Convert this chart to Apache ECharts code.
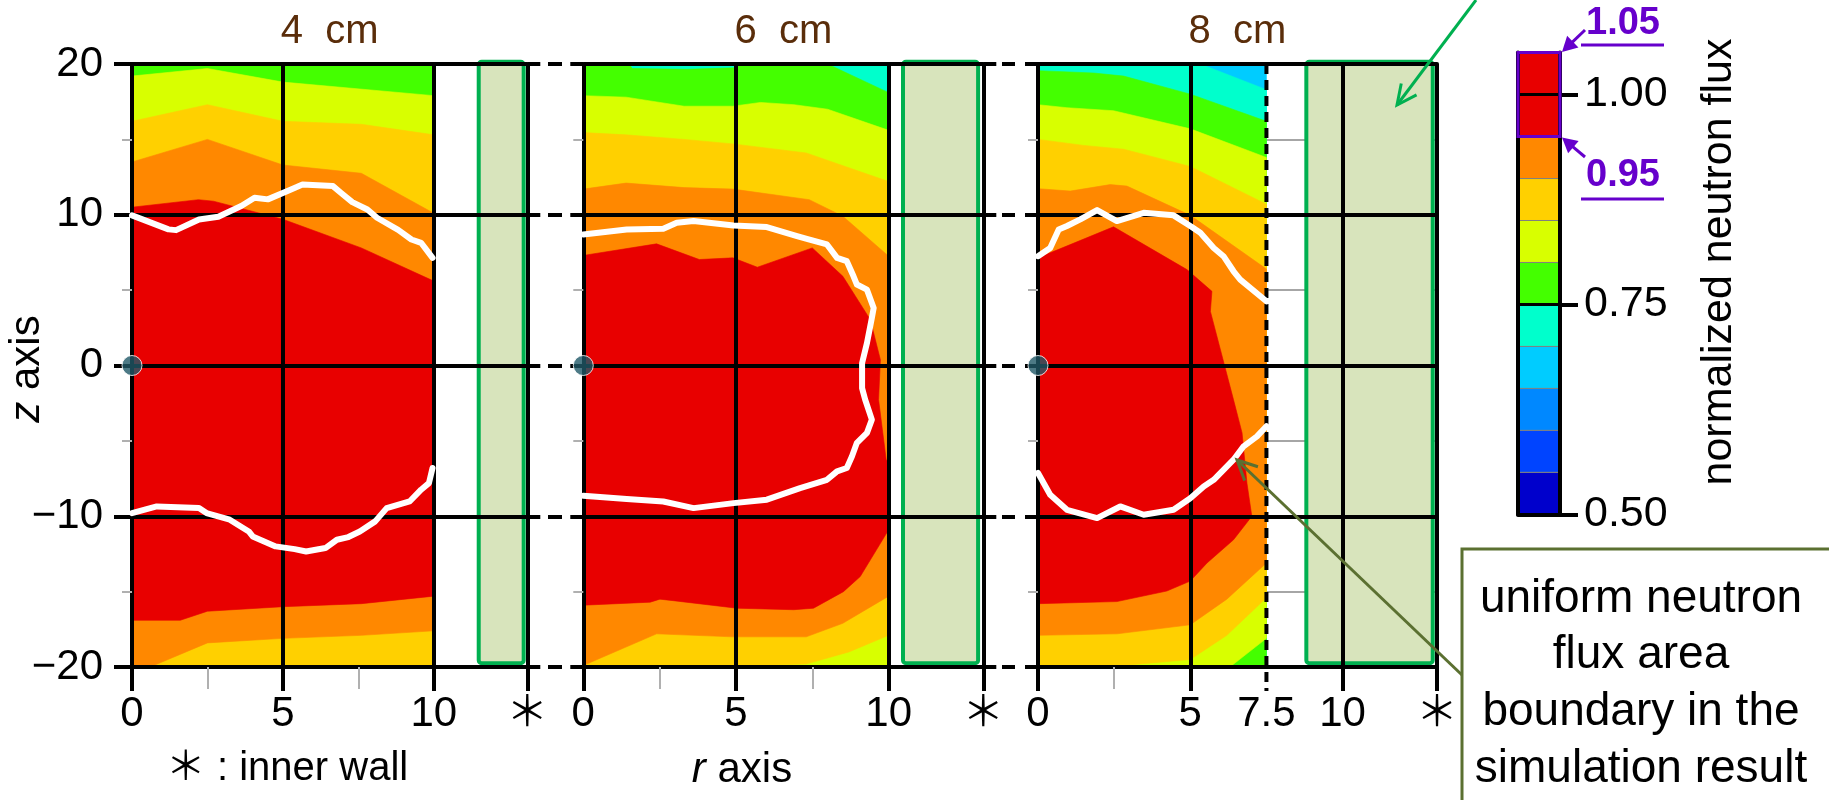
<!DOCTYPE html>
<html><head><meta charset="utf-8">
<script src="https://cdn.jsdelivr.net/npm/echarts@6/dist/echarts.min.js"></script>
<style>html,body{margin:0;padding:0;background:#fff}#c{width:1829px;height:800px}</style>
</head><body><div id="c"></div><script>
// ---------------- DATA ----------------
const panelTitles = ['4  cm', '6  cm', '8  cm'];
const wallMarkR = 13.1;                       // r position of the "*" (inner wall) tick
const contourEdge = [10, 10, 7.5];            // r where the simulated field ends
const wallBand = [[11.49, 12.98], [10.47, 12.93], [8.81, 12.96]]; // shaded inner-wall band (r)
const xLabelValues = [[0, 5, 10, 13.1], [0, 5, 10, 13.1], [0, 5, 7.5, 10, 13.1]];
const xMajorTicks = [[0, 5, 10, 13.1], [0, 5, 10, 13.1], [0, 5, 10, 13.1]];
const xMinorTicks = [[2.5, 7.5], [2.5, 7.5], [2.5]];
const zTicks = [-20, -10, 0, 10, 20];
const centerPoint = [[0, 0]];

// colour scale (lower bound of each 0.05 bin)
const colorLevels = [0.50, 0.55, 0.60, 0.65, 0.70, 0.75, 0.80, 0.85, 0.90, 0.95, 1.00, 1.05];
const colorBins = ['#0000CC', '#0044FF', '#0088FF', '#00CCFF', '#00FFCC', '#44FF00', '#D8FF00', '#FFD000', '#FF8800', '#E80000', '#E80000'];
const colorbarTicks = [0.50, 0.75, 1.00];
const highlightRange = [0.95, 1.05];

// Panel 1 (4 cm) contour boundaries [r, z]
const p1GreenYg = [[0,19.2],[2.5,19.7],[5,18.8],[10,17.9]];
const p1YgYellow = [[0,16.2],[2.5,17.3],[5,16.2],[7.6,16.0],[10,15.3]];
const p1YellowOrange = [[0,13.5],[2.5,15.0],[5,13.3],[7.6,12.75],[10,10.1]];
const p1OrangeRed = [[0,10.5],[2.2,11.0],[2.7,10.9],[5,9.7],[7.6,7.8],[10,5.6]];
const p1RedOrangeB = [[0,-16.9],[1.6,-16.9],[2.5,-16.3],[5,-16.0],[7.6,-15.8],[10,-15.3]];
const p1OrangeYellowB = [[0,-20],[0.6,-20],[2.5,-18.4],[5,-18.1],[7.6,-17.9],[10,-17.6]];

// Panel 2 (6 cm)
const p2CyanGreen = [[0,20],[1.5,20],[1.6,19.7],[3.4,19.65],[5.0,19.75],[5.15,20],[8.0,20],[10,18.1]];
const p2GreenYg = [[0,17.9],[1.4,17.8],[3.3,17.2],[4.9,17.2],[5.8,17.45],[6.9,17.3],[8.0,17.0],[10,15.6]];
const p2YgYellow = [[0,15.45],[1.4,15.3],[3.3,15.0],[4.9,14.7],[7.3,14.1],[10,12.2]];
const p2YellowOrange = [[0,11.7],[1.4,12.1],[3.3,11.8],[4.9,11.7],[7.4,11.0],[8.5,9.9],[10,7.25]];
const p2YellowYgB = [[0,-20],[5.8,-19.9],[7.3,-19.8],[8.7,-19.0],[10,-17.9]];
const p2OrangeYellowB = [[0,-19.9],[2.4,-17.8],[4.9,-18.0],[7.3,-18.0],[8.5,-17.1],[10,-15.3]];
const p2RedRegion = [[0,7.3],[2.4,8.07],[3.8,7.03],[4.9,7.14],[5.7,6.52],[7.5,7.8],[8.5,5.92],[9.4,3.04],[9.73,0.38],[9.67,-2.26],[9.92,-6.25],[10,-6.4],[10,-10.9],[9.07,-14.0],[8.52,-15.0],[7.54,-16.1],[6.89,-16.2],[5.03,-16.1],[2.95,-15.6],[2.51,-15.5],[2.19,-15.7],[0,-15.9]];

// Panel 3 (8 cm)
const p3BlueCyan = [[0,20],[5.33,20],[7.5,18.3]];
const p3CyanGreen = [[0,19.56],[1.83,19.4],[2.81,19.2],[5.0,18.0],[7.5,16.2]];
const p3GreenYg = [[0,17.3],[0.95,17.1],[2.48,16.9],[5.0,15.7],[7.5,13.8]];
const p3YgGreenB = [[0,-20],[6.3,-20],[7.5,-18.1]];
const p3YgYellow = [[0,15.0],[1.5,14.6],[2.81,14.35],[5.0,13.2],[7.5,10.7]];
const p3YellowYgB = [[0,-20],[2.8,-19.9],[5.0,-19.5],[6.2,-17.9],[7.5,-15.4]];
const p3YellowOrange = [[0,11.73],[1.06,11.57],[2.37,12.0],[2.92,11.9],[5.0,9.96],[7.5,6.4]];
const p3OrangeYellowB = [[0,-17.9],[2.6,-17.8],[5.0,-17.2],[6.2,-15.5],[7.5,-13.1]];
const p3RedRegion = [[0,7.14],[2.48,9.2],[4.89,6.36],[5.71,4.92],[5.66,3.59],[6.42,-2.28],[6.7,-4.47],[6.86,-7.8],[7.02,-10.0],[6.42,-11.56],[5.55,-13.1],[5.0,-14.3],[4.23,-14.96],[2.59,-15.66],[0,-15.8]];

// uniform-flux boundary (white lines) from the simulation
const wb1Top = [[0,9.96],[1.21,9.03],[1.46,8.98],[2.22,9.69],[2.86,9.87],[3.62,10.58],[4.06,11.13],[4.5,11.02],[5.27,11.68],[5.65,12.0],[6.66,11.9],[6.92,11.46],[7.3,10.84],[7.8,10.35],[8.12,9.8],[8.82,9.0],[9.26,8.36],[9.58,8.14],[9.96,7.14]];
const wb1Bot = [[0,-9.79],[0.82,-9.35],[2.22,-9.46],[2.47,-9.79],[3.24,-10.23],[3.87,-11.01],[4.0,-11.34],[4.76,-12.0],[5.39,-12.18],[5.77,-12.34],[6.41,-12.11],[6.79,-11.56],[7.17,-11.38],[7.55,-11.01],[8.06,-10.34],[8.44,-9.46],[9.2,-9.02],[9.58,-8.24],[9.84,-7.8],[9.96,-6.8]];
const wb2 = [[0,8.69],[1.42,9.02],[2.62,9.07],[3.06,9.47],[3.61,9.58],[4.92,9.29],[6.01,9.18],[7.0,8.58],[7.32,8.4],[7.98,8.03],[8.31,7.14],[8.63,6.92],[8.85,5.92],[8.96,5.37],[9.29,5.03],[9.51,3.81],[9.45,3.15],[9.29,1.49],[9.13,0.16],[9.13,-1.5],[9.23,-2.26],[9.45,-3.59],[9.29,-4.47],[8.96,-5.13],[8.8,-6.02],[8.63,-6.8],[8.31,-7.02],[7.98,-7.58],[7.1,-8.13],[6.01,-8.9],[4.92,-9.13],[3.61,-9.46],[2.62,-9.02],[1.42,-8.86],[0,-8.64]];
const wb3Top = [[0,7.25],[0.4,7.8],[0.68,9.02],[0.95,9.25],[1.39,9.69],[1.94,10.31],[2.59,9.58],[3.47,10.13],[4.45,9.96],[5.0,9.25],[5.33,8.8],[5.77,7.8],[6.09,7.25],[6.42,6.25],[6.64,5.7],[7.5,4.26]];
const wb3Bot = [[0,-7.13],[0.4,-8.57],[0.95,-9.57],[1.94,-10.12],[2.7,-9.35],[3.47,-9.9],[4.45,-9.57],[5.0,-8.8],[5.44,-8.02],[5.77,-7.58],[6.42,-6.25],[6.75,-5.36],[7.19,-4.7],[7.5,-4.03]];

// ---------------- BUILD ----------------
const FONT = '"Liberation Sans", Arial, Helvetica, "Noto Sans CJK JP", sans-serif';
const col = lv => colorBins[colorLevels.indexOf(lv)];
const rect = e => [[0,20],[e,20],[e,-20],[0,-20]];
const topBand = (c, e) => c.concat([[e,-20],[0,-20]]);
const between = (t, b) => t.concat(b.slice().reverse());

const bands = [
  [ {c: col(0.75), p: rect(10)}, {c: col(0.80), p: topBand(p1GreenYg,10)}, {c: col(0.85), p: topBand(p1YgYellow,10)},
    {c: col(0.90), p: between(p1YellowOrange, p1OrangeYellowB)}, {c: col(0.95), p: between(p1OrangeRed, p1RedOrangeB)} ],
  [ {c: col(0.70), p: rect(10)}, {c: col(0.75), p: topBand(p2CyanGreen,10)}, {c: col(0.80), p: topBand(p2GreenYg,10)},
    {c: col(0.85), p: between(p2YgYellow, p2YellowYgB)}, {c: col(0.90), p: between(p2YellowOrange, p2OrangeYellowB)},
    {c: col(0.95), p: p2RedRegion} ],
  [ {c: col(0.65), p: rect(7.5)}, {c: col(0.70), p: topBand(p3BlueCyan,7.5)}, {c: col(0.75), p: topBand(p3CyanGreen,7.5)},
    {c: col(0.80), p: between(p3GreenYg, p3YgGreenB)}, {c: col(0.85), p: between(p3YgYellow, p3YellowYgB)},
    {c: col(0.90), p: between(p3YellowOrange, p3OrangeYellowB)}, {c: col(0.95), p: p3RedRegion} ]
];
const whiteLines = [[wb1Top, wb1Bot], [wb2], [wb3Top, wb3Bot]];

const panelLeft = [132, 583.3, 1038], panelWidth = [395.3, 400, 399];
const TOP = 64, H = 603;
const BLACK = {color: '#000', width: 4};
const grid = [], xAxis = [], yAxis = [], series = [];

for (let i = 0; i < 3; i++) {
  grid.push({left: panelLeft[i], top: TOP, width: panelWidth[i], height: H});
  const xi = xAxis.length;
  xAxis.push({type: 'value', gridIndex: i, min: 0, max: wallMarkR, position: 'bottom', z: 3,
    axisLine: {show: true, onZero: false, lineStyle: BLACK},
    axisTick: {show: true, customValues: xMajorTicks[i], length: 24, lineStyle: BLACK},
    axisLabel: {show: true, customValues: xLabelValues[i], fontSize: 42, color: '#000', fontFamily: FONT, margin: 26,
      formatter: v => Math.abs(v - wallMarkR) < 1e-6 ? '\uFF0A' : String(v)},
    splitLine: {show: true, lineStyle: BLACK}});
  xAxis.push({type: 'value', gridIndex: i, min: 0, max: wallMarkR, position: 'bottom', z: 3,
    axisLine: {show: false, onZero: false}, axisTick: {show: true, customValues: xMinorTicks[i], length: 22, lineStyle: {color: '#b0b0b0', width: 2}},
    axisLabel: {show: false}, splitLine: {show: false}});
  const yi = yAxis.length;
  yAxis.push({type: 'value', gridIndex: i, min: -20, max: 20, interval: 10, position: 'left', z: 3,
    axisLine: {show: true, onZero: false, lineStyle: BLACK},
    axisTick: {show: true, length: i === 0 ? 18 : 13, lineStyle: BLACK},
    minorTick: {show: true, splitNumber: 2, length: 10, lineStyle: {color: '#b0b0b0', width: 2}},
    axisLabel: {show: i === 0, fontSize: 42, color: '#000', fontFamily: FONT, margin: 29,
      formatter: v => v < 0 ? '\u2212' + Math.abs(v) : String(v)},
    splitLine: {show: true, lineStyle: BLACK}});
  yAxis.push({type: 'value', gridIndex: i, min: -20, max: 20, interval: 10, position: 'right', z: 3,
    axisLine: {show: true, onZero: false, lineStyle: BLACK},
    axisTick: {show: i < 2, length: 13, lineStyle: BLACK},
    axisLabel: {show: false}, splitLine: {show: false}});
  if (i === 2) {
    yAxis.push({type: 'value', gridIndex: i, min: -20, max: 20, interval: 10, position: 'left', z: 0,
      axisLine: {show: false, onZero: false}, axisTick: {show: false}, axisLabel: {show: false}, splitLine: {show: false},
      minorTick: {show: false, splitNumber: 2}, minorSplitLine: {show: true, lineStyle: {color: '#a6a6a6', width: 2}}});
  }
  const B = bands[i];
  series.push({type: 'custom', xAxisIndex: xi, yAxisIndex: yi, z: 1, silent: true,
    data: B.map((b, k) => [0, 0, k]),
    renderItem: (params, api) => {
      const b = B[params.dataIndex];
      return {type: 'polygon', shape: {points: b.p.map(p => api.coord(p))}, style: {fill: b.c, stroke: b.c, lineWidth: 0.6}};
    }});
  // inner wall shaded band
  series.push({type: 'custom', xAxisIndex: xi, yAxisIndex: yi, z: 1, silent: true,
    data: [[wallBand[i][0], wallBand[i][1]]],
    renderItem: (params, api) => {
      const a = api.coord([api.value(0), 20.15]), b = api.coord([api.value(1), -19.75]);
      return {type: 'rect', shape: {x: a[0], y: a[1], width: b[0] - a[0], height: b[1] - a[1], r: 3},
        style: {fill: '#D8E4BC', stroke: '#00B050', lineWidth: 4}};
    }});
  if (i === 2) {
    series.push({type: 'custom', xAxisIndex: xi, yAxisIndex: yi, z: 4, silent: true, clip: false,
      data: [[contourEdge[2]]],
      renderItem: (params, api) => {
        const a = api.coord([api.value(0), 20]), b = api.coord([api.value(0), -20]);
        return {type: 'line', shape: {x1: a[0], y1: a[1], x2: b[0], y2: b[1] + 24},
          style: {stroke: '#000', lineWidth: 4, lineDash: [10, 6]}};
      }});
  }
  whiteLines[i].forEach(d => series.push({type: 'line', xAxisIndex: xi, yAxisIndex: yi, z: 5, data: d,
    showSymbol: false, symbol: 'none', silent: true, lineStyle: {color: '#fff', width: 6, cap: 'round', join: 'round'}}));
  series.push({type: 'scatter', xAxisIndex: xi, yAxisIndex: yi, z: 6, data: centerPoint, symbolSize: 20, clip: false,
    itemStyle: {color: '#215968', borderColor: '#fff', borderWidth: 1}});
}

// colour bar
const cbG = grid.length;
grid.push({left: 1518, top: 52.6, width: 42, height: 461.7});
const cbX = xAxis.length;
xAxis.push({type: 'value', gridIndex: cbG, min: 0, max: 1, axisLine: {show: true, onZero: false, lineStyle: BLACK},
  axisTick: {show: false}, axisLabel: {show: false}, splitLine: {show: false}});
const cbY = yAxis.length;
yAxis.push({type: 'value', gridIndex: cbG, min: 0.5, max: 1.05, interval: 0.25, position: 'right', z: 3,
  axisLine: {show: true, onZero: false, lineStyle: BLACK},
  axisTick: {show: true, customValues: colorbarTicks, length: 18, lineStyle: BLACK},
  axisLabel: {show: true, customValues: colorbarTicks, fontSize: 43, color: '#000', fontFamily: FONT, margin: 24,
    formatter: v => v.toFixed(2)},
  splitLine: {show: true, lineStyle: {color: '#000', width: 3}}});
yAxis.push({type: 'value', gridIndex: cbG, min: 0.5, max: 1.05, position: 'left', z: 3,
  axisLine: {show: true, onZero: false, lineStyle: BLACK}, axisTick: {show: false}, axisLabel: {show: false}, splitLine: {show: false}});
series.push({type: 'custom', xAxisIndex: cbX, yAxisIndex: cbY, z: 1, silent: true,
  data: colorBins.map((c, k) => [colorLevels[k], colorLevels[k + 1], k]),
  renderItem: (params, api) => {
    const a = api.coord([0, api.value(1)]), b = api.coord([1, api.value(0)]);
    return {type: 'rect', shape: {x: a[0], y: a[1], width: b[0] - a[0], height: b[1] - a[1]},
      style: {fill: colorBins[api.value(2)], stroke: '#808080', lineWidth: 1}};
  }});
series.push({type: 'custom', xAxisIndex: cbX, yAxisIndex: cbY, z: 10, silent: true, clip: false,
  data: [highlightRange],
  renderItem: (params, api) => {
    const a = api.coord([0, api.value(1)]), b = api.coord([1, api.value(0)]);
    return {type: 'rect', shape: {x: a[0], y: a[1], width: b[0] - a[0], height: b[1] - a[1]},
      style: {fill: null, stroke: '#6600CC', lineWidth: 3}};
  }});

// dashes between panels
[[548, 14], [1002, 13]].forEach(([l, w]) => {
  const g = grid.length;
  grid.push({left: l, top: TOP, width: w, height: H});
  xAxis.push({type: 'value', gridIndex: g, min: 0, max: 1, show: false});
  yAxis.push({type: 'value', gridIndex: g, min: -20, max: 20, interval: 10, z: 3,
    axisLine: {show: false}, axisTick: {show: false}, axisLabel: {show: false}, splitLine: {show: true, lineStyle: BLACK}});
});

// ---------------- annotations ----------------
const G = [];
function txt(x, y, s, size, opt) {
  G.push(Object.assign({type: 'text', x, y, z: 100, silent: true,
    style: Object.assign({text: s, fontSize: size, fontFamily: FONT, fill: '#000', align: 'center', verticalAlign: 'middle'}, (opt && opt.style) || {})},
    opt && opt.rotation !== undefined ? {rotation: opt.rotation} : {}));
}
function arrow(x1, y1, x2, y2, color, w, len, filled) {
  const a = Math.atan2(y2 - y1, x2 - x1), s = filled ? 0.5 : 0.45;
  const p1 = [x2 - len * Math.cos(a - s), y2 - len * Math.sin(a - s)];
  const p2 = [x2 - len * Math.cos(a + s), y2 - len * Math.sin(a + s)];
  const ex = filled ? x2 - len * 0.8 * Math.cos(a) : x2, ey = filled ? y2 - len * 0.8 * Math.sin(a) : y2;
  G.push({type: 'line', z: 100, silent: true, shape: {x1, y1, x2: ex, y2: ey}, style: {stroke: color, lineWidth: w}});
  if (filled) G.push({type: 'polygon', z: 100, silent: true, shape: {points: [[x2, y2], p1, p2]}, style: {fill: color}});
  else G.push({type: 'polyline', z: 100, silent: true, shape: {points: [p1, [x2, y2], p2]}, style: {stroke: color, lineWidth: w, fill: null}});
}
const BROWN = '#5A2D0A';
txt(329.6, 31.6, panelTitles[0], 40, {style: {fill: BROWN}});
txt(783.3, 31.6, panelTitles[1], 40, {style: {fill: BROWN}});
txt(1237.5, 31.6, panelTitles[2], 40, {style: {fill: BROWN}});
txt(287, 769, '\uFF0A : inner wall', 40);
txt(742, 770, '{it|r} axis', 42, {style: {rich: {it: {fontStyle: 'italic', fontSize: 42, fontFamily: FONT}}}});
txt(27, 369, '{it|z} axis', 42, {rotation: Math.PI / 2, style: {rich: {it: {fontStyle: 'italic', fontSize: 42, fontFamily: FONT}}}});
txt(1719, 262, 'normalized neutron flux', 43, {rotation: Math.PI / 2});
// purple highlight labels
const PUR = '#6600CC';
txt(1623, 24, '1.05', 38, {style: {fill: PUR, fontWeight: 'bold'}});
txt(1623, 176, '0.95', 38, {style: {fill: PUR, fontWeight: 'bold'}});
G.push({type: 'line', z: 100, silent: true, shape: {x1: 1581, y1: 45, x2: 1664, y2: 45}, style: {stroke: PUR, lineWidth: 3}});
G.push({type: 'line', z: 100, silent: true, shape: {x1: 1581, y1: 199, x2: 1664, y2: 199}, style: {stroke: PUR, lineWidth: 3}});
arrow(1585, 30, 1562, 52, PUR, 3, 17, true);
arrow(1585, 157, 1562, 137.5, PUR, 3, 17, true);
// green arrow to the inner wall band
arrow(1476, 0, 1397, 105, '#00B050', 3, 22, false);
// callout
G.push({type: 'rect', z: 99, silent: true, shape: {x: 1462, y: 549, width: 380, height: 300}, style: {fill: '#fff', stroke: '#5B7031', lineWidth: 3}});
arrow(1462, 675, 1237, 460, '#5B7031', 3, 22, false);
const calloutLines = ['uniform neutron', 'flux area', 'boundary in the', 'simulation result'];
calloutLines.forEach((s, k) => txt(1641, 599 + k * 56.7, s, 46));

const chart = echarts.init(document.getElementById('c'), null, {renderer: 'canvas'});
chart.setOption({animation: false, backgroundColor: '#fff', grid, xAxis, yAxis, series, graphic: {elements: G}});
</script></body></html>
